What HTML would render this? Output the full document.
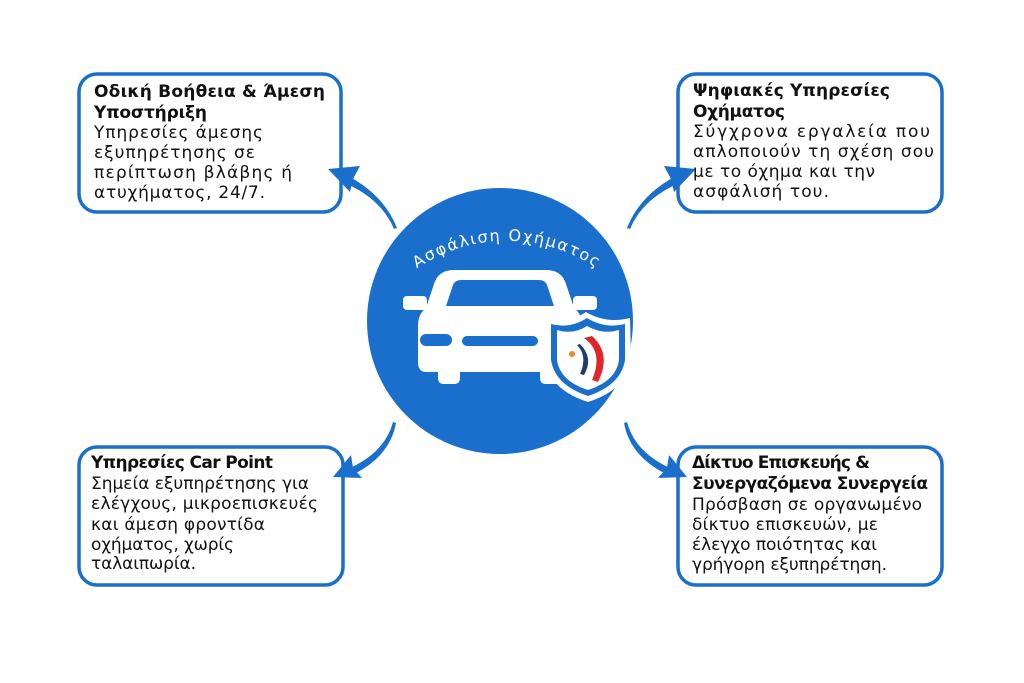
<!DOCTYPE html>
<html><head><meta charset="utf-8"><style>
html,body{margin:0;padding:0;background:#fff;width:1024px;height:683px;overflow:hidden}
.t{font-family:"DejaVu Sans","Liberation Sans",sans-serif;font-size:17px;fill:#111}
.b{font-weight:bold}
</style></head><body>
<svg width="1024" height="683" viewBox="0 0 1024 683" xmlns="http://www.w3.org/2000/svg">
<defs>
<path id="arc" d="M412,272 A160,160 0 0 1 602,272"/>
</defs>
<g fill="#fff" stroke="#1a6fcc" stroke-width="3.5">
<rect x="79" y="74" width="262" height="138" rx="18"/>
<rect x="678" y="74" width="264" height="138" rx="18"/>
<rect x="79" y="447" width="264" height="138" rx="18"/>
<rect x="678" y="447" width="264" height="138" rx="18"/>
</g>
<g fill="#1a6fcc">
<path d="M397,228 Q384,195 348,176 L347,184 Q382,200 394,229 Z"/>
<path d="M627,228 Q640,195 676,176 L677,184 Q642,200 630,229 Z"/>
<path d="M393,422 Q385,452 350,468 L354,474 Q390,456 396,423 Z"/>
<path d="M627,422 Q635,452 670,468 L666,474 Q630,456 624,423 Z"/>
<polygon points="328,169 360,166 353,179 350,192"/>
<polygon points="696,169 664,166 671,179 674,192"/>
<polygon points="333,477 351,455 353,468 362,478"/>
<polygon points="687,477 669,455 667,468 658,478"/>
</g>
<circle cx="500" cy="321" r="133" fill="#1a6fcc"/>
<text class="t" style="fill:#fff;font-size:16px;letter-spacing:1.6px"><textPath href="#arc" startOffset="50%" text-anchor="middle">Ασφάλιση Οχήματος</textPath></text>
<g fill="#fff">
<path d="M434,284 Q438,271 452,270 L548,270 Q562,271 566,284 L574,308 Q582,314 582,326 L582,362 Q582,372 574,372 L562,372 L562,378 Q562,384 556,384 L546,384 Q540,384 540,378 L540,372 L460,372 L460,378 Q460,384 454,384 L444,384 Q438,384 438,378 L438,372 L426,372 Q418,372 418,362 L418,326 Q418,314 426,308 Z"/>
<rect x="403" y="296" width="24" height="14" rx="4"/>
<rect x="573" y="296" width="24" height="14" rx="4"/>
</g>
<path d="M446,306 L453,285 Q455,280 461,280 L539,280 Q545,280 547,285 L554,306 Z" fill="#1a6fcc"/>
<rect x="420" y="334" width="32" height="12" rx="6" fill="#1a6fcc"/>
<rect x="462" y="336" width="76" height="10" rx="5" fill="#1a6fcc"/>
<rect x="548" y="334" width="32" height="12" rx="6" fill="#1a6fcc"/>
<path d="M586,312 Q606,324 630,318 L631,360 Q626,390 588,402 Q550,390 545,360 L546,318 Q568,324 586,312 Z" fill="#fff"/>
<path d="M587,318 Q605,329 625,324 L625,360 Q621,385 588,396 Q555,385 551,360 L551,324 Q570,329 587,318 Z" fill="#1a6fcc"/>
<path d="M587,326 Q603,335 619,330 L619,360 Q616,381 588,390 Q560,381 557,360 L557,330 Q573,335 587,326 Z" fill="#fff"/>
<path d="M584,338 Q604,352 592,380 L598,382 Q612,354 592,336 Z" fill="#e0262b"/>
<path d="M577,345 Q588,356 580,374 L584,375 Q594,358 580,344 Z" fill="#1d3f6e"/>
<circle cx="572" cy="354" r="3" fill="#f08a24"/>
<g class="t" >
<text x="94" y="97" class="t b" textLength="231" lengthAdjust="spacing">Οδική Βοήθεια &amp; Άμεση</text>
<text x="94" y="118" class="t b" textLength="113" lengthAdjust="spacing">Υποστήριξη</text>
<text x="94" y="138" textLength="169" lengthAdjust="spacing">Υπηρεσίες άμεσης</text>
<text x="94" y="158" textLength="161" lengthAdjust="spacing">εξυπηρέτησης σε</text>
<text x="94" y="178" textLength="198" lengthAdjust="spacing">περίπτωση βλάβης ή</text>
<text x="94" y="198" textLength="171" lengthAdjust="spacing">ατυχήματος, 24/7.</text>

<text x="693" y="96" class="t b" textLength="197" lengthAdjust="spacing">Ψηφιακές Υπηρεσίες</text>
<text x="693" y="117" class="t b" textLength="92" lengthAdjust="spacing">Οχήματος</text>
<text x="693" y="137" textLength="237" lengthAdjust="spacing">Σύγχρονα εργαλεία που</text>
<text x="693" y="157" textLength="241" lengthAdjust="spacing">απλοποιούν τη σχέση σου</text>
<text x="693" y="177" textLength="182" lengthAdjust="spacing">με το όχημα και την</text>
<text x="693" y="197" textLength="136" lengthAdjust="spacing">ασφάλισή του.</text>

<text x="91" y="468" class="t b" textLength="182" lengthAdjust="spacing">Υπηρεσίες Car Point</text>
<text x="91" y="489" textLength="218" lengthAdjust="spacing">Σημεία εξυπηρέτησης για</text>
<text x="91" y="509" textLength="227" lengthAdjust="spacing">ελέγχους, μικροεπισκευές</text>
<text x="91" y="530" textLength="174" lengthAdjust="spacing">και άμεση φροντίδα</text>
<text x="91" y="550" textLength="143" lengthAdjust="spacing">οχήματος, χωρίς</text>
<text x="91" y="569" textLength="105" lengthAdjust="spacing">ταλαιπωρία.</text>

<text x="692" y="468" class="t b" textLength="178" lengthAdjust="spacing">Δίκτυο Επισκευής &amp;</text>
<text x="692" y="489" class="t b" textLength="236" lengthAdjust="spacing">Συνεργαζόμενα Συνεργεία</text>
<text x="692" y="510" textLength="230" lengthAdjust="spacing">Πρόσβαση σε οργανωμένο</text>
<text x="692" y="530" textLength="186" lengthAdjust="spacing">δίκτυο επισκευών, με</text>
<text x="692" y="550" textLength="185" lengthAdjust="spacing">έλεγχο ποιότητας και</text>
<text x="692" y="570" textLength="195" lengthAdjust="spacing">γρήγορη εξυπηρέτηση.</text>
</g>
</svg>
</body></html>
